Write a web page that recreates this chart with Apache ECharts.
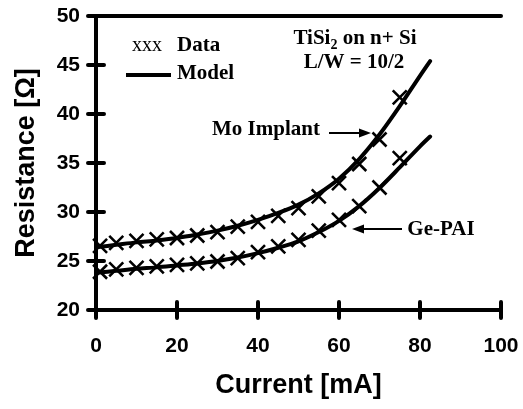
<!DOCTYPE html>
<html>
<head>
<meta charset="utf-8">
<script src="https://cdn.jsdelivr.net/npm/echarts@6/dist/echarts.min.js"></script>
<style>html,body{margin:0;padding:0;background:#fff;}#c{width:523px;height:409px;}</style>
</head>
<body>
<div id="c"></div>
<script>
const xTicks = [0, 20, 40, 60, 80, 100];
const yTicks = [20, 25, 30, 35, 40, 45, 50];
const current = [1, 5, 10, 15, 20, 25, 30, 35, 40, 45, 50, 55, 60, 65, 70, 75];
const moData = [26.55, 26.85, 27.05, 27.2, 27.35, 27.6, 27.95, 28.5, 29.0, 29.6, 30.4, 31.6, 32.95, 34.9, 37.4, 41.7];
const geData = [23.9, 24.15, 24.3, 24.45, 24.6, 24.75, 24.95, 25.3, 25.9, 26.5, 27.15, 28.1, 29.2, 30.6, 32.5, 35.5];
const modelCurrent = [0, 5, 10, 15, 20, 25, 30, 35, 40, 45, 50, 55, 60, 65, 70, 75, 80, 82.5];
const moModel = [26.4, 26.65, 26.9, 27.1, 27.35, 27.7, 28.1, 28.6, 29.2, 29.9, 30.75, 31.9, 33.4, 35.4, 37.9, 40.8, 43.9, 45.4];
const geModel = [23.8, 24.0, 24.2, 24.35, 24.55, 24.75, 25.0, 25.35, 25.8, 26.35, 27.0, 27.95, 29.1, 30.6, 32.45, 34.55, 36.7, 37.7];

const pair = (xs, ys) => xs.map((x, i) => [x, ys[i]]);
const SANS = '"Liberation Sans", Arial, sans-serif';
const SERIF = '"Liberation Serif", "Times New Roman", serif';
const crossPath = 'path://M0,0L10,10M10,0L0,10';

const baseX = {type: 'value', min: 0, max: 100, interval: 20, splitLine: {show: false}};
const baseY = {type: 'value', min: 20, max: 50, interval: 5, splitLine: {show: false}};
const lineStyle = {color: '#000', width: 4, cap: 'round'};

const chart = echarts.init(document.getElementById('c'), null, {renderer: 'canvas'});
chart.setOption({
  animation: false,
  backgroundColor: '#fff',
  grid: {left: 96, right: 22, top: 16, bottom: 99, containLabel: false},
  xAxis: [
    Object.assign({}, baseX, {
      position: 'bottom',
      axisLine: {show: true, lineStyle: lineStyle},
      axisTick: {show: true, inside: false, length: 8, lineStyle: lineStyle},
      axisLabel: {show: true, margin: 26, color: '#000', fontFamily: SANS, fontWeight: 'bold', fontSize: 21,
                  formatter: v => xTicks.includes(v) ? String(v) : ''},
      name: 'Current [mA]', nameLocation: 'middle', nameGap: 62,
      nameTextStyle: {color: '#000', fontFamily: SANS, fontWeight: 'bold', fontSize: 27}
    }),
    Object.assign({}, baseX, {
      position: 'bottom',
      axisLine: {show: false},
      axisTick: {show: true, inside: true, length: 8, lineStyle: lineStyle},
      axisLabel: {show: false}
    }),
    Object.assign({}, baseX, {
      position: 'top',
      axisLine: {show: true, lineStyle: lineStyle},
      axisTick: {show: false}, axisLabel: {show: false}
    })
  ],
  yAxis: [
    Object.assign({}, baseY, {
      position: 'left',
      axisLine: {show: true, lineStyle: lineStyle},
      axisTick: {show: true, inside: false, length: 8, lineStyle: lineStyle},
      axisLabel: {show: true, margin: 16, color: '#000', fontFamily: SANS, fontWeight: 'bold', fontSize: 21,
                  formatter: v => yTicks.includes(v) ? String(v) : ''},
      name: 'Resistance [Ω]', nameLocation: 'middle', nameGap: 56,
      nameTextStyle: {color: '#000', fontFamily: SANS, fontWeight: 'bold', fontSize: 27}
    }),
    Object.assign({}, baseY, {
      position: 'left',
      axisLine: {show: false},
      axisTick: {show: true, inside: true, length: 8, lineStyle: lineStyle},
      axisLabel: {show: false}
    }),
    Object.assign({}, baseY, {
      position: 'right',
      axisLine: {show: true, lineStyle: lineStyle},
      axisTick: {show: false}, axisLabel: {show: false}
    })
  ],
  series: [
    {type: 'line', name: 'Mo Model', data: pair(modelCurrent, moModel), smooth: 0.3, showSymbol: false,
     lineStyle: {color: '#000', width: 4, cap: 'round'}, z: 2},
    {type: 'line', name: 'Ge Model', data: pair(modelCurrent, geModel), smooth: 0.3, showSymbol: false,
     lineStyle: {color: '#000', width: 4, cap: 'round'}, z: 2},
    {type: 'scatter', name: 'Mo Data', data: pair(current, moData), symbol: crossPath, symbolSize: 14,
     itemStyle: {color: 'rgba(0,0,0,0)', borderColor: '#000', borderWidth: 2.6, opacity: 1}, z: 3},
    {type: 'scatter', name: 'Ge Data', data: pair(current, geData), symbol: crossPath, symbolSize: 14,
     itemStyle: {color: 'rgba(0,0,0,0)', borderColor: '#000', borderWidth: 2.6, opacity: 1}, z: 3}
  ],
  graphic: [
    {type: 'text', left: 132, top: 36, style: {text: 'xxx', font: '20px ' + SERIF, fill: '#000'}},
    {type: 'text', left: 177, top: 35, style: {text: 'Data', font: 'bold 21px ' + SERIF, fill: '#000'}},
    {type: 'line', shape: {x1: 126, y1: 75, x2: 171, y2: 75}, style: {stroke: '#000', lineWidth: 4}},
    {type: 'text', left: 177, top: 63, style: {text: 'Model', font: 'bold 21px ' + SERIF, fill: '#000'}},
    {type: 'text', x: 355, y: 39, style: {text: 'TiSi{s|2} on n+ Si', textAlign: 'center', textVerticalAlign: 'middle',
      font: 'bold 21px ' + SERIF, fill: '#000', rich: {s: {fontSize: 14, fontWeight: 'bold', fontFamily: SERIF, padding: [12, 0, 0, 0]}}}},
    {type: 'text', x: 354, y: 63, style: {text: 'L/W = 10/2', textAlign: 'center', textVerticalAlign: 'middle',
      font: 'bold 21px ' + SERIF, fill: '#000'}},
    {type: 'text', x: 266, y: 130, style: {text: 'Mo Implant', textAlign: 'center', textVerticalAlign: 'middle',
      font: 'bold 21px ' + SERIF, fill: '#000'}},
    {type: 'line', shape: {x1: 329, y1: 133, x2: 362, y2: 133}, style: {stroke: '#000', lineWidth: 2}},
    {type: 'polygon', shape: {points: [[371, 133], [359, 128.5], [359, 137.5]]}, style: {fill: '#000'}},
    {type: 'text', x: 441, y: 230, style: {text: 'Ge-PAI', textAlign: 'center', textVerticalAlign: 'middle',
      font: 'bold 21px ' + SERIF, fill: '#000'}},
    {type: 'line', shape: {x1: 402, y1: 229, x2: 361, y2: 229}, style: {stroke: '#000', lineWidth: 2}},
    {type: 'polygon', shape: {points: [[352, 229], [364, 224.5], [364, 233.5]]}, style: {fill: '#000'}}
  ]
});
</script>
</body>
</html>
